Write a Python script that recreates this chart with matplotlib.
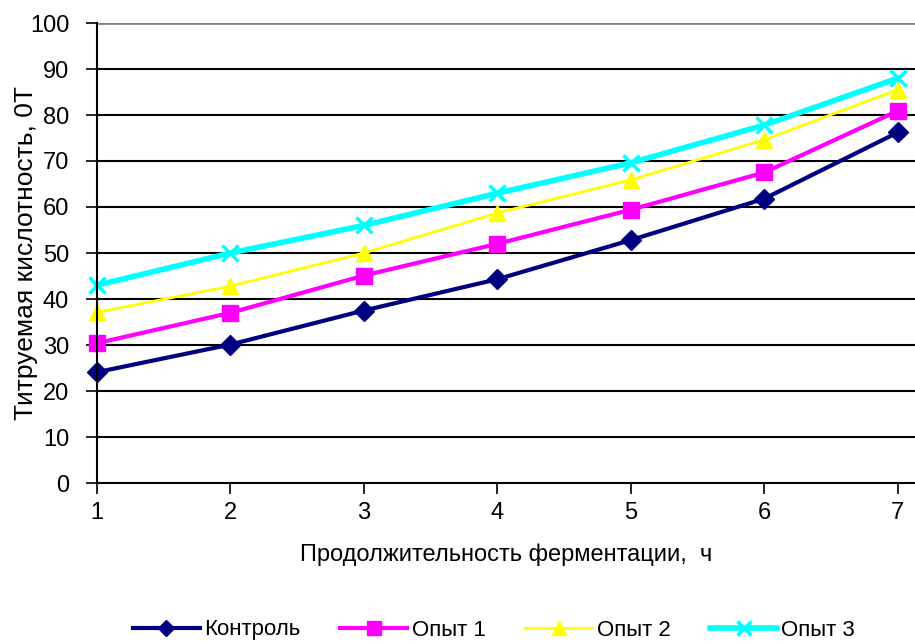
import matplotlib
matplotlib.use("Agg")
import matplotlib.pyplot as plt

hours = [1, 2, 3, 4, 5, 6, 7]
control = [24.1, 30.1, 37.5, 44.3, 52.8, 61.8, 76.2]
exp1 = [30.4, 37.0, 45.1, 52.0, 59.4, 67.5, 80.9]
exp2 = [37.1, 42.8, 50.0, 58.7, 65.9, 74.6, 85.5]
exp3 = [43.0, 50.0, 56.0, 63.0, 69.6, 77.8, 88.0]
names = ["Контроль", "Опыт 1", "Опыт 2", "Опыт 3"]
yticks = list(range(0, 101, 10))

plt.rcParams['font.family'] = ['Liberation Sans', 'DejaVu Sans']

fig = plt.figure(figsize=(9.15, 6.44), dpi=100)
ax = fig.add_axes([97/915, 161/644, 1 - 97/915, (483-23)/644])

styles = [
    dict(color="#000080", marker="D", lw=3, ms=10),
    dict(color="#FF00FF", marker="s", lw=3, ms=12),
    dict(color="#FFFF00", marker="^", lw=2, ms=12),
    dict(color="#00FFFF", marker="x", lw=4, ms=12, mew=2.5),
]
for ser, name, st in zip([control, exp1, exp2, exp3], names, styles):
    ax.plot(hours, ser, label=name, color=st["color"], marker=st["marker"],
            lw=st["lw"], ms=st["ms"], mew=st.get("mew", 1), mec=st["color"],
            solid_joinstyle="round", clip_on=False)

ax.set_xlim(1, 7.13)
ax.set_ylim(0, 100)
ax.set_yticks(yticks)
ax.set_xticks(hours)
for y in yticks[1:-1]:
    ax.axhline(y, color="black", lw=1.5, zorder=0)
ax.axhline(100, color="#808080", lw=2, zorder=0)
ax.spines['right'].set_visible(False)
ax.spines['top'].set_visible(False)
ax.spines['left'].set_linewidth(1.5)
ax.spines['bottom'].set_linewidth(1.5)
ax.tick_params(axis='y', direction='out', length=8, width=1.2, labelsize=17, pad=12)
ax.tick_params(axis='x', direction='out', length=8, width=1.2, labelsize=17, pad=6)
ax.set_ylabel("Титруемая кислотность, 0Т", fontsize=19)
ax.yaxis.set_label_coords(-0.072, 0.5)
ax.set_xlabel("Продолжительность ферментации,  ч", fontsize=17, labelpad=14)

leg = fig.legend(loc="center", bbox_to_anchor=(0.54, 14/644), ncol=4, frameon=False,
                 fontsize=16, handlelength=3, columnspacing=1.8, handletextpad=0.2,
                 markerscale=0.8)
plt.savefig("out.png", dpi=100)
